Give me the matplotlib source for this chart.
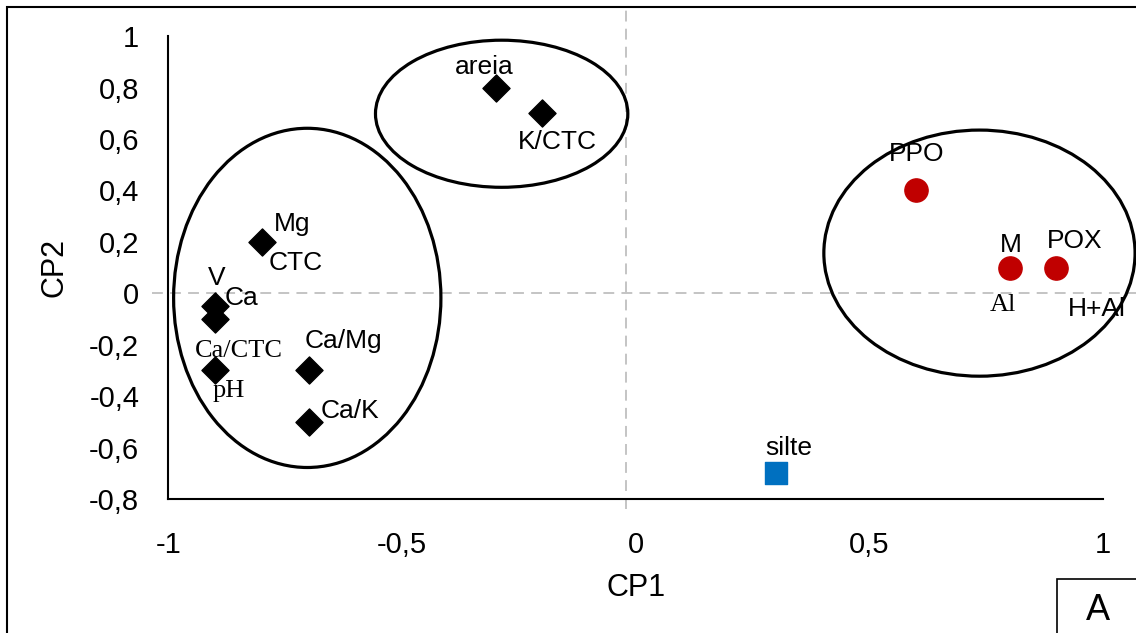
import matplotlib.pyplot as plt
from matplotlib.patches import Ellipse, Rectangle

plt.rcParams['font.family'] = ['Liberation Sans', 'DejaVu Sans']

# soil attributes (black diamonds)
attr_names = ['areia', 'K/CTC', 'Mg', 'V', 'Ca', 'Ca/CTC', 'Ca/Mg', 'Ca/K']
attr_x = [-0.3, -0.2, -0.8, -0.9, -0.9, -0.9, -0.7, -0.7]
attr_y = [0.8, 0.7, 0.2, -0.05, -0.1, -0.3, -0.3, -0.5]

# enzymes / organic (red circles)
enz_names = ['PPO', 'M', 'POX']
enz_x = [0.6, 0.8, 0.9]
enz_y = [0.4, 0.1, 0.1]

# silt (blue square)
silt_x = [0.3]
silt_y = [-0.7]

x_ticks = [-1, -0.5, 0, 0.5, 1]
x_ticklabels = ['-1', '-0,5', '0', '0,5', '1']
y_ticks = [1, 0.8, 0.6, 0.4, 0.2, 0, -0.2, -0.4, -0.6, -0.8]
y_ticklabels = ['1', '0,8', '0,6', '0,4', '0,2', '0', '-0,2', '-0,4', '-0,6', '-0,8']

fig = plt.figure(figsize=(11.36, 6.33), dpi=100)
ax = fig.add_axes([0.1483, 0.2117, 0.971 - 0.1483, 0.943 - 0.2117])

# dashed reference lines
ax.plot([-0.02, -0.02], [-0.84, 1.11], ls=(0, (6, 4)), color='#bfbfbf', lw=1.3, clip_on=False, zorder=1)
ax.plot([-1.035, 1.08], [0, 0], ls=(0, (6, 4)), color='#bfbfbf', lw=1.3, clip_on=False, zorder=1)

ax.scatter(attr_x, attr_y, marker='D', s=190, color='black', zorder=3)
ax.scatter(enz_x, enz_y, marker='o', s=280, color='#c00000', zorder=3)
ax.scatter(silt_x, silt_y, marker='s', s=255, color='#0070c0', zorder=3)

# group ellipses
ell_kw = dict(fill=False, edgecolor='black', lw=2.3, clip_on=False, zorder=2)
ax.add_patch(Ellipse((-0.703, -0.018), 0.572, 1.319, **ell_kw))
ax.add_patch(Ellipse((-0.287, 0.698), 0.54, 0.572, **ell_kw))
ax.add_patch(Ellipse((0.7355, 0.156), 0.666, 0.957, **ell_kw))

# data labels (offsets in points)
fs = 19
labels = [
    ('areia', -0.3, 0.8, -8, 15, 'sans'),
    ('K/CTC', -0.2, 0.7, 11, -21, 'sans'),
    ('Mg', -0.8, 0.2, 22, 13, 'sans'),
    ('CTC', -0.8, 0.2, 24, -15, 'sans'),
    ('V', -0.9, -0.05, 1, 20, 'sans'),
    ('Ca', -0.9, -0.05, 19, 6, 'sans'),
    ('Ca/CTC', -0.9, -0.3, 17, 14, 'serif'),
    ('pH', -0.9, -0.3, 10, -15, 'serif'),
    ('Ca/Mg', -0.7, -0.3, 25, 21, 'sans'),
    ('Ca/K', -0.7, -0.5, 30, 8, 'sans'),
    ('silte', 0.3, -0.7, 9, 18, 'sans'),
    ('PPO', 0.6, 0.4, 0, 26, 'sans'),
    ('M', 0.8, 0.1, 1, 16, 'sans'),
    ('POX', 0.9, 0.1, 13, 19, 'sans'),
    ('Al', 0.8, 0.1, -5, -27, 'serif'),
    ('H+Al', 0.9, 0.1, 29, -30, 'sans'),
]
for name, x, y, dx, dy, fam in labels:
    family = ['Liberation Serif', 'DejaVu Serif'] if fam == 'serif' else ['Liberation Sans', 'DejaVu Sans']
    ax.annotate(name, (x, y), xytext=(dx, dy), textcoords='offset points',
                ha='center', va='center', fontsize=fs, family=family, zorder=4)

ax.set_xlim(-1, 1)
ax.set_ylim(-0.8, 1)
ax.set_xticks(x_ticks)
ax.set_xticklabels(x_ticklabels)
ax.set_yticks(y_ticks)
ax.set_yticklabels(y_ticklabels)
ax.tick_params(length=0, labelsize=21)
ax.tick_params(axis='y', pad=21)
ax.tick_params(axis='x', pad=23)
for s in ['top', 'right']:
    ax.spines[s].set_visible(False)
for s in ['left', 'bottom']:
    ax.spines[s].set_linewidth(1.5)
ax.set_xlabel('CP1', fontsize=22, labelpad=10)
ax.set_ylabel('CP2', fontsize=22, labelpad=14)

# outer frame and panel letter box
fig.patches.append(Rectangle((7 / 1136, -0.1), 1.2, 1.1 - 7 / 633, transform=fig.transFigure,
                             fill=False, edgecolor='black', lw=1.5))
fig.patches.append(Rectangle((1057 / 1136, -0.1), 0.2, 0.1 + 54 / 633, transform=fig.transFigure,
                             fill=False, edgecolor='black', lw=1.2))
fig.text(1098 / 1136, 1 - 610 / 633, 'A', fontsize=26, ha='center', va='center')

fig.savefig('out.png', dpi=100)
